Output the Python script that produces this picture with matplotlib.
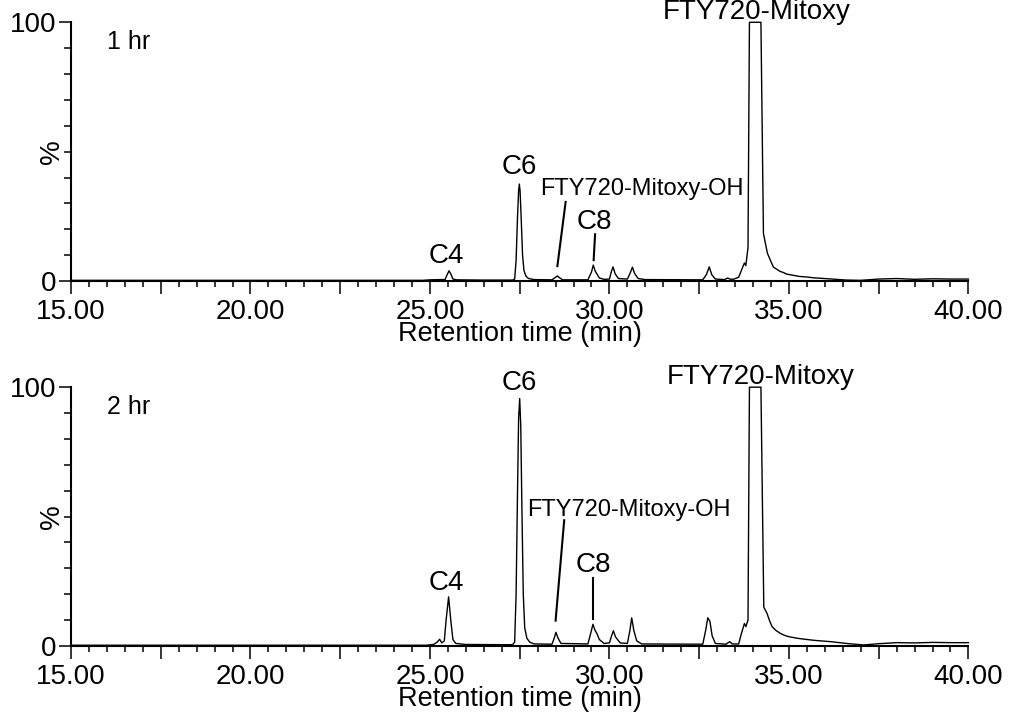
import numpy as np
import matplotlib.pyplot as plt
from matplotlib.ticker import FixedLocator, MultipleLocator

plt.rcParams['font.family'] = ['Liberation Sans', 'DejaVu Sans']

# 1 hr chromatogram: retention time (min) and relative intensity (%)
time_1hr = [15.0, 24.8, 25.0, 25.3, 25.42, 25.48, 25.53, 25.58, 25.64, 25.75,
            26.5, 27.3, 27.36, 27.40, 27.44, 27.47, 27.49, 27.51, 27.54, 27.58,
            27.62, 27.68, 27.75, 27.9,
            28.4, 28.5, 28.55, 28.62, 28.7, 29.4, 29.5, 29.55, 29.6, 29.65,
            29.72, 29.85, 30.0, 30.05, 30.10, 30.16, 30.25, 30.5, 30.58, 30.64,
            30.70, 30.8, 31.0, 32.6, 32.7, 32.78, 32.85, 32.95, 33.2, 33.3,
            33.35, 33.45, 33.6, 33.7, 33.76, 33.8, 33.86, 33.90, 34.22, 34.29,
            34.40, 34.50, 34.57, 34.66, 34.75, 34.85, 34.94, 35.1, 35.3, 35.5,
            35.68, 36.2, 36.62, 37.0, 37.5, 38.0, 38.5, 39.0, 39.5, 40.0]
inten_1hr = [0.3, 0.3, 0.5, 0.6, 0.6, 2.5, 4.0, 2.8, 0.8, 0.5,
             0.4, 0.4, 0.8, 8.0, 25.0, 35.0, 37.5, 35.0, 25.0, 10.0,
             4.0, 1.8, 1.0, 0.6,
             0.5, 1.5, 2.0, 1.2, 0.5, 0.5, 3.5, 6.2, 4.0, 2.8,
             1.2, 0.7, 0.8, 3.5, 5.5, 2.8, 1.0, 0.8, 3.2, 5.4,
             3.0, 1.0, 0.6, 0.5, 2.5, 5.5, 2.5, 0.8, 0.6, 1.2,
             0.8, 0.7, 1.5, 5.0, 7.0, 6.0, 13.0, 100.0, 100.0, 18.4,
             10.8, 7.5, 5.4, 4.6, 3.8, 3.3, 2.7, 2.3, 1.8, 1.6,
             1.3, 0.8, 0.4, 0.3, 0.8, 1.0, 0.7, 0.9, 0.8, 0.8]

# 2 hr chromatogram
time_2hr = [15.0, 24.9, 25.1, 25.2, 25.27, 25.33, 25.4, 25.45, 25.52, 25.58,
            25.64, 25.72, 26.0, 27.3, 27.36, 27.40, 27.44, 27.47, 27.50, 27.53,
            27.56, 27.60, 27.64, 27.70, 27.78, 27.9,
            28.4, 28.46, 28.51, 28.57, 28.65, 29.4, 29.48, 29.54,
            29.6, 29.65, 29.72, 29.85, 30.0, 30.06, 30.11, 30.17, 30.3, 30.5,
            30.57, 30.62, 30.68, 30.76, 30.9, 32.6, 32.68, 32.74, 32.8, 32.86,
            32.95, 33.25, 33.35, 33.42, 33.6, 33.68, 33.76, 33.8, 33.86, 33.90,
            34.22, 34.30, 34.39, 34.46, 34.53, 34.64, 34.76, 34.88, 35.0, 35.23,
            35.45, 35.7, 36.15, 36.6, 37.08, 37.5, 38.0, 38.5, 39.0, 39.5, 40.0]
inten_2hr = [0.3, 0.3, 0.6, 1.5, 2.6, 1.2, 2.0, 10.0, 19.0, 10.0,
             2.5, 1.0, 0.6, 0.5, 1.5, 20.0, 60.0, 88.0, 95.6, 85.0,
             55.0, 20.0, 7.0, 3.0, 1.5, 0.8,
             0.7, 3.0, 5.3, 3.0, 1.0, 0.8, 5.0, 8.4,
             6.0, 4.9, 2.5, 1.0, 1.2, 4.0, 5.9, 3.5, 1.2, 1.0,
             6.0, 10.9, 6.0, 2.0, 0.8, 0.7, 6.0, 10.9, 9.5, 4.0,
             1.0, 0.7, 1.7, 0.8, 0.8, 5.0, 8.7, 7.5, 10.0, 100.0,
             100.0, 15.0, 12.6, 9.8, 7.5, 6.0, 4.9, 4.1, 3.6, 3.0,
             2.6, 2.2, 1.7, 1.0, 0.4, 0.9, 1.3, 1.2, 1.4, 1.3, 1.3]

panel_labels = ["1 hr", "2 hr"]

# peak labels: (text, time, intensity of baseline, font size)
peak_labels_1hr = [("C4", 25.45, 7.1, 20), ("C6", 27.49, 41.2, 20),
                   ("FTY720-Mitoxy-OH", 30.91, 33.2, 17), ("C8", 29.59, 20.3, 20),
                   ("FTY720-Mitoxy", 34.11, 101.4, 20)]
peak_labels_2hr = [("C4", 25.45, 21.6, 20), ("C6", 27.49, 99.1, 20),
                   ("FTY720-Mitoxy-OH", 30.55, 50.2, 17), ("C8", 29.55, 28.5, 20),
                   ("FTY720-Mitoxy", 34.20, 101.2, 20)]

# pointer lines: (t_start, i_start, t_end, i_end)
pointers_1hr = [(28.78, 30.6, 28.55, 5.8), (29.60, 18.1, 29.56, 8.1)]
pointers_2hr = [(28.74, 48.6, 28.50, 9.8), (29.54, 26.1, 29.54, 10.3)]

fig = plt.figure(figsize=(10.21, 7.19), dpi=100)
ax_top = fig.add_axes([0.0695, 0.609, 0.879, 0.360])
ax_bot = fig.add_axes([0.0695, 0.1015, 0.879, 0.360])

panels = [(ax_top, time_1hr, inten_1hr, panel_labels[0], peak_labels_1hr, pointers_1hr),
          (ax_bot, time_2hr, inten_2hr, panel_labels[1], peak_labels_2hr, pointers_2hr)]

for ax, t, inten, plabel, labels, pointers in panels:
    ax.plot(t, inten, color="black", lw=1.0, clip_on=False)
    ax.set_xlim(15, 40)
    ax.set_ylim(0, 100)

    for side in ["top", "right"]:
        ax.spines[side].set_visible(False)
    for side in ["left", "bottom"]:
        ax.spines[side].set_linewidth(1.5)

    # x ticks: long every 2.5 min, short every 0.5 min, labels at 5 min
    major = [15 + 2.5 * k for k in range(11)]
    ax.xaxis.set_major_locator(FixedLocator(major))
    ax.set_xticklabels([f"{v:.2f}" if v % 5 == 0 else "" for v in major])
    ax.xaxis.set_minor_locator(MultipleLocator(0.5))
    ax.tick_params(axis="x", which="major", length=9.5, width=1.1, labelsize=20, pad=3.5)
    ax.tick_params(axis="x", which="minor", length=4.3, width=1.1)

    ax.yaxis.set_major_locator(FixedLocator([0, 100]))
    ax.set_yticklabels(["0", "100"])
    ax.yaxis.set_minor_locator(MultipleLocator(10))
    ax.tick_params(axis="y", which="major", length=8.5, width=1.1, labelsize=20, pad=2)
    ax.tick_params(axis="y", which="minor", length=5, width=1.1)

    ax.text(0.5, -0.232, "Retention time (min)", transform=ax.transAxes,
            ha="center", va="baseline", fontsize=19.5)
    ax.text(-0.021, 0.5, "%", transform=ax.transAxes, rotation=90,
            ha="center", va="center", fontsize=20)
    ax.text(16.0, 89.5, plabel, ha="left", va="baseline", fontsize=18)

    for name, tx, ty, fs in labels:
        ax.text(tx, ty, name, ha="center", va="baseline", fontsize=fs, clip_on=False)
    for t0, i0, t1, i1 in pointers:
        ax.plot([t0, t1], [i0, i1], color="black", lw=1.5, clip_on=False)

fig.savefig("out.png", dpi=100)
